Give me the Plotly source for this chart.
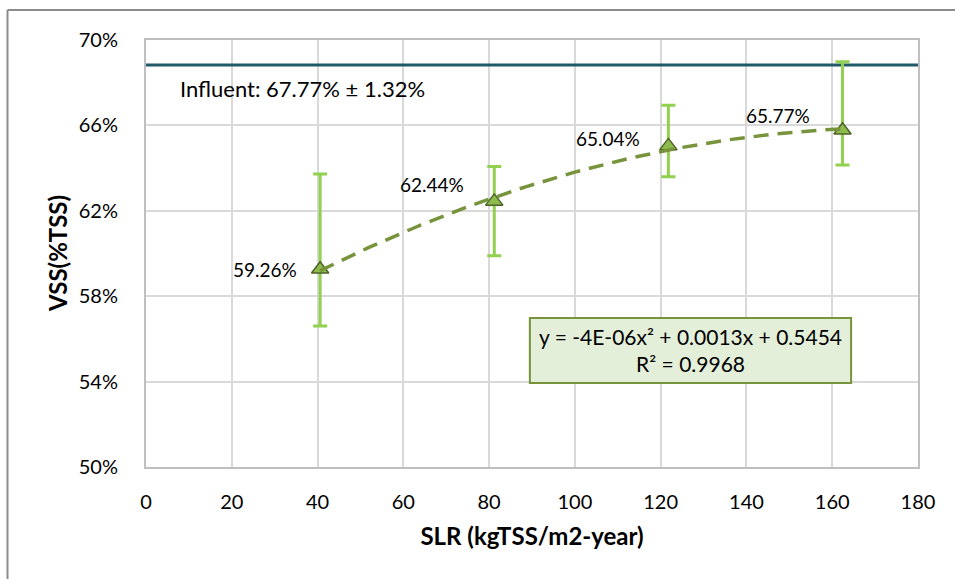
import numpy as np
import plotly.graph_objects as go

# Solids loading rate (kgTSS/m2-year) and effluent VSS fraction of TSS
slr = [40.6, 81.2, 121.8, 162.4]
vss = [0.5926, 0.6244, 0.6504, 0.6577]
err_plus = [0.0446, 0.0163, 0.0190, 0.0321]
err_minus = [0.0266, 0.0254, 0.0144, 0.0162]
label_text = ["59.26%", "62.44%", "65.04%", "65.77%"]

influent_level = 0.6883
influent_text = "Influent: 67.77% ± 1.32%"
fit_text = "y = -4E-06x² + 0.0013x + 0.5454<br>R² = 0.9968"

x_ticks = list(range(0, 181, 20))
y_ticks = [0.50, 0.54, 0.58, 0.62, 0.66, 0.70]

FONT = "Lato"
W, H = 955, 579
L, R, T, B = 146, 37, 40, 112

# second-order polynomial trendline through the measured points
coef = np.polyfit(slr, vss, 2)
xs = np.linspace(min(slr), max(slr), 120)
ys = np.polyval(coef, xs)

fig = go.Figure()

fig.add_trace(go.Scatter(
    x=[0, 180], y=[influent_level, influent_level], mode="lines",
    line=dict(color="#215968", width=3), hoverinfo="skip", showlegend=False,
))

fig.add_trace(go.Scatter(
    x=slr, y=vss, mode="markers",
    marker=dict(symbol="triangle-up", size=15, color="#8DBB4C",
                line=dict(color="#4F6228", width=1.5)),
    error_y=dict(type="data", symmetric=False, array=err_plus,
                 arrayminus=err_minus, color="#92D050", thickness=3, width=7),
    showlegend=False,
))

fig.add_trace(go.Scatter(
    x=xs, y=ys, mode="lines",
    line=dict(color="#77933C", width=3.5, dash="15px,9px"),
    hoverinfo="skip", showlegend=False,
))

# value labels next to each point
shifts = [(-55, 0), (-62, 17), (-60, 7), (-65, 15)]
for x, y, t, (dx, dy) in zip(slr, vss, label_text, shifts):
    fig.add_annotation(x=x, y=y, text=t, showarrow=False, xshift=dx, yshift=dy,
                       font=dict(family=FONT, size=19, color="#000000"))

fig.add_annotation(x=36.4, y=0.6775, text=influent_text, showarrow=False,
                   font=dict(family=FONT, size=22, color="#000000"))

# trendline equation box
fig.add_shape(type="rect", x0=89.5, x1=164.4, y0=0.5393, y1=0.5698,
              fillcolor="#E3EFD9", line=dict(color="#77933C", width=2), layer="above")
fig.add_annotation(x=126.95, y=0.5546, text=fit_text, showarrow=False,
                   font=dict(family=FONT, size=21, color="#000000"), align="center")

# outer chart frame (left and top edges)
px = lambda p: (p - L) / (W - L - R)
py = lambda p: (H - B - p) / (H - T - B)
fig.add_shape(type="line", xref="paper", yref="paper", x0=px(7.5), x1=px(7.5),
              y0=py(10), y1=py(600), line=dict(color="#8C8C8C", width=2))
fig.add_shape(type="line", xref="paper", yref="paper", x0=px(7.5), x1=px(960),
              y0=py(10), y1=py(10), line=dict(color="#8C8C8C", width=2))

# vertical axis title
fig.add_annotation(xref="paper", yref="paper", x=px(57), y=py(254),
                   xanchor="center", yanchor="middle",
                   text="<b>VSS(%TSS)</b>", textangle=-90, showarrow=False,
                   font=dict(family=FONT, size=24, color="#000000"))

fig.update_xaxes(
    range=[0, 180], tickvals=x_ticks, ticktext=[str(v) for v in x_ticks],
    showgrid=True, gridcolor="#D9D9D9", gridwidth=1.5, zeroline=False,
    showline=True, linecolor="#BFBFBF", linewidth=2, mirror=True,
    ticks="", ticklabelstandoff=16,
    tickfont=dict(family=FONT, size=20, color="#000000"),
    title=dict(text="<b>SLR (kgTSS/m2-year)</b>", standoff=16,
               font=dict(family=FONT, size=24, color="#000000")),
)
fig.update_yaxes(
    range=[0.50, 0.70], tickvals=y_ticks, tickformat=".0%",
    showgrid=True, gridcolor="#D9D9D9", gridwidth=1.5, zeroline=False,
    showline=True, linecolor="#BFBFBF", linewidth=2, mirror=True,
    ticks="", ticklabelstandoff=22,
    tickfont=dict(family=FONT, size=20, color="#000000"),
)

fig.update_layout(
    width=W, height=H, margin=dict(l=L, r=R, t=T, b=B),
    paper_bgcolor="#FFFFFF", plot_bgcolor="#FFFFFF", showlegend=False,
)

fig.write_html("out.html")
